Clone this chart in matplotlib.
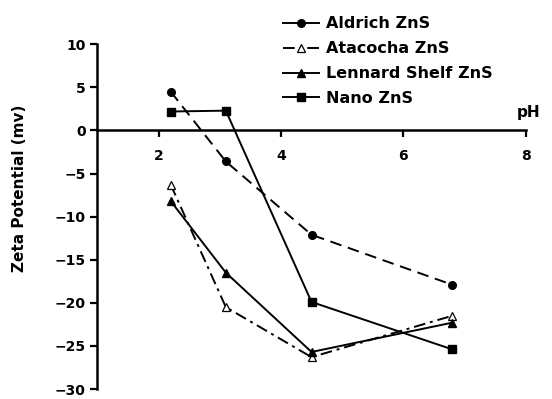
import matplotlib
matplotlib.use("Agg")
import matplotlib.pyplot as plt
from matplotlib.lines import Line2D

plt.rcParams['font.family'] = ['DejaVu Sans']
plt.rcParams['font.weight'] = 'bold'

ph = [2.2, 3.1, 4.5, 6.8]
aldrich = [4.5, -3.6, -12.1, -17.9]
atacocha = [-6.3, -20.5, -26.3, -21.5]
lennard = [-8.2, -16.5, -25.7, -22.3]
nano = [2.2, 2.3, -19.9, -25.4]
labels = ["Aldrich ZnS", "Atacocha ZnS", "Lennard Shelf ZnS", "Nano ZnS"]
xticks = [2, 4, 6, 8]
yticks = [10, 5, 0, -5, -10, -15, -20, -25, -30]

fig = plt.figure(figsize=(5.52, 3.99), dpi=100)
ax = fig.add_axes([0.1763, 0.025, 0.7761, 0.864])

lw = 1.4
ms_c, ms_t, ms_s = 5.5, 6, 5.5
ax.plot(ph, aldrich, color='black', lw=lw, ls=(0, (6, 3.5)), marker='o', ms=ms_c, zorder=3)
ax.plot(ph, atacocha, color='black', lw=lw, ls=(0, (6, 2.5, 1.5, 2.5)), marker='^',
        ms=ms_t, mfc='white', mec='black', mew=0.9, zorder=3)
ax.plot(ph, lennard, color='black', lw=lw, ls='-', marker='^', ms=ms_t, zorder=3)
ax.plot(ph, nano, color='black', lw=lw, ls='-', marker='s', ms=ms_s, zorder=3)

ax.set_xlim(1, 8)
ax.set_ylim(-30, 10)
ax.spines['top'].set_visible(False)
ax.spines['right'].set_visible(False)
ax.spines['bottom'].set_position(('data', 0))
ax.spines['left'].set_linewidth(1.8)
ax.spines['bottom'].set_linewidth(1.8)
ax.set_xticks(xticks)
ax.set_yticks(yticks)
ax.tick_params(axis='both', direction='out', length=5, width=1.6, labelsize=10)
ax.tick_params(axis='x', pad=8)
for t in ax.get_xticklabels() + ax.get_yticklabels():
    t.set_fontweight('bold')
ax.text(8.05, 1.2, 'pH', fontsize=11, fontweight='bold', ha='center', va='bottom')

fig.text(20 / 552, 1 - 188 / 399, 'Zeta Potential (mv)', rotation=90, fontsize=11,
         fontweight='bold', ha='center', va='center')

handles = [
    Line2D([], [], color='black', lw=lw, ls='-', marker='o', ms=ms_c),
    Line2D([], [], color='black', lw=lw, ls=(0, (6, 2.5, 1.5, 2.5)), marker='^', ms=ms_t,
           mfc='white', mec='black', mew=0.9),
    Line2D([], [], color='black', lw=lw, ls='-', marker='^', ms=ms_t),
    Line2D([], [], color='black', lw=lw, ls='-', marker='s', ms=ms_s),
]
fig.legend(handles, labels, loc='upper left', bbox_to_anchor=(269 / 552, 1 - 2 / 399),
           frameon=False, prop={'weight': 'bold', 'size': 11.5}, handlelength=2.2,
           handletextpad=0.45, labelspacing=0.62)

fig.savefig('out.png', dpi=100)
